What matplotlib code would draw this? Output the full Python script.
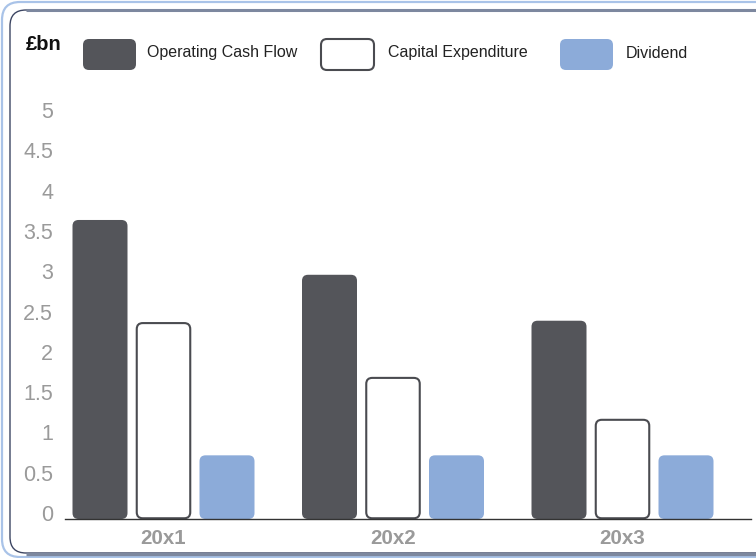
import matplotlib
matplotlib.use("Agg")
import matplotlib.pyplot as plt
from matplotlib.patches import FancyBboxPatch
from matplotlib.transforms import ScaledTranslation
import numpy as np

plt.rcParams['font.family'] = ['Liberation Sans', 'DejaVu Sans']

# ---- data ----
years = ["20x1", "20x2", "20x3"]
series_names = ["Operating Cash Flow", "Capital Expenditure", "Dividend"]
operating_cash_flow = [3.71, 3.03, 2.46]
capital_expenditure = [2.44, 1.76, 1.24]
dividend = [0.79, 0.79, 0.79]
y_ticks = [0, 0.5, 1, 1.5, 2, 2.5, 3, 3.5, 4, 4.5, 5]
y_tick_labels = ["0", "0.5", "1", "1.5", "2", "2.5", "3", "3.5", "4", "4.5", "5"]
unit_label = "£bn"

# ---- style ----
W, H = 756, 558
DPI = 100
c_ocf = "#54555a"
c_capex_edge = "#4a4b50"
c_div = "#8cabd9"
c_tick = "#9a9a9a"

fig = plt.figure(figsize=(W / DPI, H / DPI), dpi=DPI, facecolor="white")

# background / frame overlay in pixel coordinates
bg = fig.add_axes([0, 0, 1, 1], zorder=0)
bg.set_xlim(0, W)
bg.set_ylim(H, 0)
bg.axis("off")
bg.add_patch(FancyBboxPatch((2, 2), 820, 555, boxstyle="round,pad=0,rounding_size=18",
                            facecolor="none", edgecolor="#a9c3e8", linewidth=1.6))
bg.add_patch(FancyBboxPatch((10, 10), 820, 543, boxstyle="round,pad=0,rounding_size=16",
                            facecolor="white", edgecolor="#3d4663", linewidth=1.0))
bg.plot([26, W], [9.5, 9.5], color="#7d889f", lw=2.2, solid_capstyle="butt")
bg.plot([26, W], [553.5, 553.5], color="#7d889f", lw=2.4, solid_capstyle="butt")

# legend (manual)
bg.text(26, 44, unit_label, fontsize=14.5, fontweight="bold", color="#111111",
        ha="left", va="center")
leg_items = [
    (82, 147, dict(facecolor=c_ocf, edgecolor="none", linewidth=0)),
    (320, 388, dict(facecolor="white", edgecolor=c_capex_edge, linewidth=1.5)),
    (559, 626, dict(facecolor=c_div, edgecolor="none", linewidth=0)),
]
for (sx, tx, kw), name in zip(leg_items, series_names):
    bg.add_patch(FancyBboxPatch((sx + 1, 39), 53, 31, boxstyle="round,pad=0,rounding_size=6", **kw))
    bg.text(tx, 53, name, fontsize=11.5, color="#222222", ha="left", va="center")

# main axes
ax_left, ax_right = 65, 751
ax_bottom, ax_top = 519, 116
ax = fig.add_axes([ax_left / W, (H - ax_bottom) / H, (ax_right - ax_left) / W,
                   (ax_bottom - ax_top) / H], zorder=1)
ax.set_facecolor("none")

x = np.arange(len(years))
px_per_x = 229.5
xlim_left = -(163.5 - ax_left) / px_per_x
xlim_right = xlim_left + (ax_right - ax_left) / px_per_x
ax.set_xlim(xlim_left, xlim_right)
ax.set_ylim(0, 5)

bw = 55 / px_per_x
step = 63.5 / px_per_x
px_per_y = (ax_bottom - ax_top) / 5.0
aspect = px_per_x / px_per_y
r = 6 / px_per_x

series = [
    (operating_cash_flow, -step, dict(facecolor=c_ocf, edgecolor="none", linewidth=0)),
    (capital_expenditure, 0.0, dict(facecolor="white", edgecolor=c_capex_edge, linewidth=1.5)),
    (dividend, step, dict(facecolor=c_div, edgecolor="none", linewidth=0)),
]
for vals, off, kw in series:
    bars = ax.bar(x + off, vals, width=bw)
    for b in bars:
        bx, by = b.get_x(), b.get_y()
        bwid, bh = b.get_width(), b.get_height()
        b.set_visible(False)
        if kw.get("linewidth", 0) > 0:
            # inset so the stroke stays inside the bar footprint
            ix = 0.75 / px_per_x
            iy = 0.75 / px_per_y
            bx, bwid = bx + ix, bwid - 2 * ix
            by, bh = by + iy, bh - 2 * iy
        p = FancyBboxPatch((bx, by), bwid, bh,
                           boxstyle=f"round,pad=0,rounding_size={r}",
                           mutation_aspect=aspect, **kw)
        ax.add_patch(p)

for s in ["top", "right", "left"]:
    ax.spines[s].set_visible(False)
ax.spines["bottom"].set_color("#333333")
ax.spines["bottom"].set_linewidth(1.0)

ax.set_yticks(y_ticks)
ax.set_yticklabels(y_tick_labels)
ax.set_xticks(x)
ax.set_xticklabels(years)
ax.tick_params(axis="y", length=0, pad=8.5, labelsize=15.5, labelcolor=c_tick)
ax.tick_params(axis="x", length=0, pad=7, labelsize=14.8, labelcolor=c_tick)
for lbl in ax.get_xticklabels():
    lbl.set_fontweight("bold")
for lbl in ax.get_yticklabels():
    lbl.set_transform(lbl.get_transform() + ScaledTranslation(0, 6 / DPI, fig.dpi_scale_trans))

fig.savefig("out.png", dpi=DPI, facecolor="white")
